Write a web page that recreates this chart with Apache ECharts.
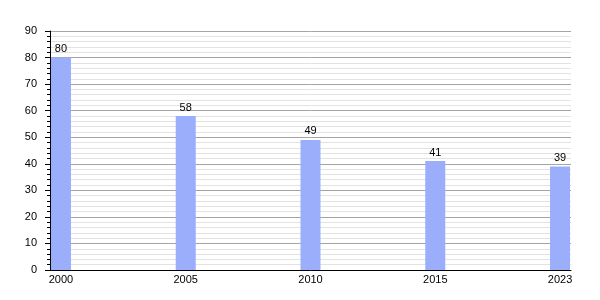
<!DOCTYPE html>
<html><head><meta charset="utf-8">
<script src="https://cdn.jsdelivr.net/npm/echarts@6/dist/echarts.min.js"></script>
<style>html,body{margin:0;padding:0;background:#fff}#c{width:600px;height:300px}</style>
</head><body><div id="c"></div>
<script>
const years = ['2000', '2005', '2010', '2015', '2023'];
const values = [80, 58, 49, 41, 39];
const yTicks = [0, 10, 20, 30, 40, 50, 60, 70, 80, 90];

const chart = echarts.init(document.getElementById('c'), null, {renderer: 'canvas'});
const font = 'Liberation Sans, Arial, sans-serif';
chart.setOption({
  animation: false,
  grid: {left: 50, right: 29, top: 31, bottom: 30, containLabel: false},
  xAxis: {
    type: 'value', min: -0.088, max: 4.088,
    axisLine: {show: true, onZero: false, lineStyle: {color: '#000', width: 1}},
    axisTick: {show: false},
    splitLine: {show: false},
    axisLabel: {customValues: [0, 1, 2, 3, 4], formatter: v => years[Math.round(v)],
      color: '#000', fontSize: 11, fontFamily: font, margin: 4}
  },
  yAxis: {
    type: 'value', min: yTicks[0], max: yTicks[yTicks.length - 1], interval: 10,
    axisLine: {show: true, onZero: false, lineStyle: {color: '#000', width: 1}},
    axisTick: {show: true, length: 5, lineStyle: {color: '#000'}},
    minorTick: {show: true, splitNumber: 5, length: 3, lineStyle: {color: '#000'}},
    splitLine: {show: true, lineStyle: {color: '#a4a4a4', width: 1}},
    minorSplitLine: {show: true, lineStyle: {color: '#e2e2e2', width: 1}},
    axisLabel: {color: '#000', fontSize: 11, fontFamily: font, margin: 13}
  },
  series: [{
    type: 'bar', barWidth: 20,
    data: years.map((y, i) => [i, values[i]]),
    itemStyle: {color: '#9aaefc'},
    label: {show: true, position: 'top', color: '#000', fontSize: 11, fontFamily: font, distance: 3,
      formatter: p => p.value[1]}
  }]
});
</script></body></html>
